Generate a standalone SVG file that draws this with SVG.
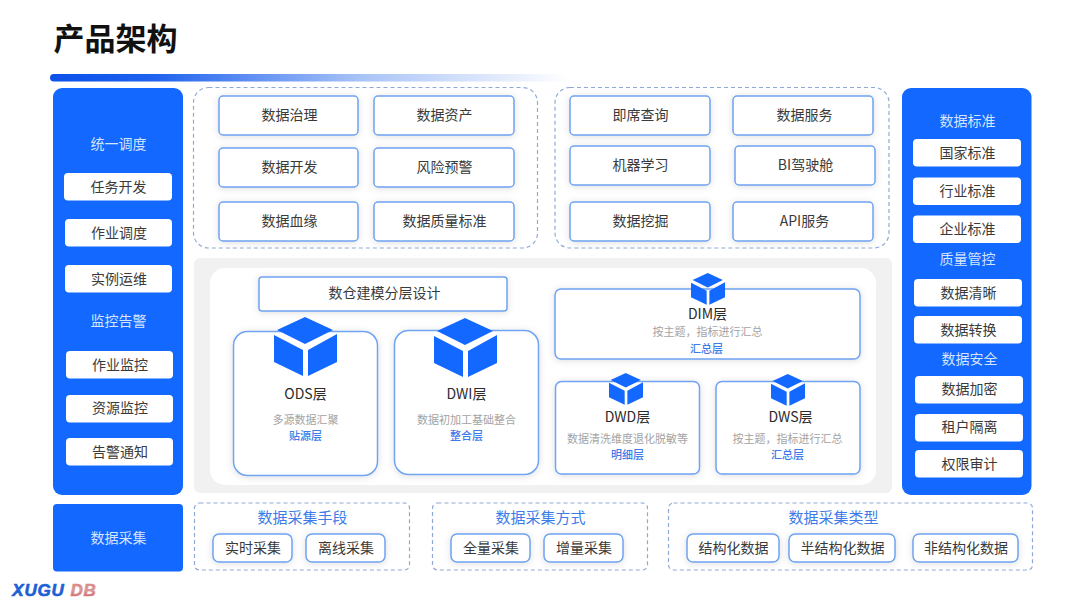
<svg xmlns="http://www.w3.org/2000/svg" width="1080" height="604" viewBox="0 0 1080 604">
<style>
text{font-family:"Noto Sans CJK SC","Noto Sans",sans-serif;text-anchor:middle;dominant-baseline:central;transform:translate(.5px,-1px)}
.p{fill:#1268ff}
.w{fill:#fff}
.c{fill:#fff;stroke:#6fa3f0;stroke-width:1.5;filter:url(#s)}
.d{fill:#fff;fill-opacity:.6;stroke:#8fa9d6;stroke-width:1.2;stroke-dasharray:4 3}
.t{font-size:14px;fill:#3a3a3a}
.l{font-size:14px;fill:#d5e4ff}
.h{font-size:15px;fill:#3d7be8}
.n{font-size:14px;fill:#2a2a2a}
.g{font-size:11px;fill:#a3a3a3}
.b{font-size:11px;fill:#3d7be8;font-weight:500}
.logo{font-family:"Liberation Sans",sans-serif;font-size:17px;font-weight:700;font-style:italic;letter-spacing:.8px;stroke-width:.6px}
</style>
<defs>
<linearGradient id="bar" x1="0" x2="1" y1="0" y2="0"><stop offset="0" stop-color="#0a50ea"/><stop offset=".2" stop-color="#1f62ee"/><stop offset=".6" stop-color="#a9c4f7"/><stop offset="1" stop-color="#fff"/></linearGradient>
<linearGradient id="db" x1="0" x2="0" y1="0" y2="1"><stop offset="0" stop-color="#e07a78"/><stop offset=".5" stop-color="#d9a0a0"/><stop offset="1" stop-color="#c9504e"/></linearGradient>
<filter id="s" x="-15%" y="-25%" width="130%" height="150%"><feDropShadow dx="0" dy="1" stdDeviation="3.5" flood-color="#000" flood-opacity=".13"/></filter>
<g id="cube" class="p">
<polygon points="31,0 59,13 31,27 3,13"/>
<polygon points="0,18 29,33 29,59 0,45"/>
<polygon points="63,17 34,33 34,59 63,45"/>
</g>
</defs>
<g id="header">
<text x="115" y="37" font-size="31" font-weight="700" fill="#111">产品架构</text>
<rect x="50" y="74" width="520" height="7.5" rx="3.7" fill="url(#bar)"/>
</g>
<g id="left-panel">
<rect class="p" x="53" y="88" width="130" height="407" rx="9"/>
<text class="l" x="118" y="144">统一调度</text>
<rect class="w" x="64" y="173" width="108" height="27.500" rx="4"/><text class="t" x="118" y="187">任务开发</text>
<rect class="w" x="65" y="219" width="107" height="27.500" rx="4"/><text class="t" x="118.500" y="233">作业调度</text>
<rect class="w" x="65" y="265" width="107" height="27.500" rx="4"/><text class="t" x="118.500" y="279">实例运维</text>
<text class="l" x="118" y="321">监控告警</text>
<rect class="w" x="66" y="351" width="107" height="27.500" rx="4"/><text class="t" x="119.500" y="365">作业监控</text>
<rect class="w" x="66" y="395" width="107" height="27.500" rx="4"/><text class="t" x="119.500" y="408">资源监控</text>
<rect class="w" x="66" y="438" width="107" height="27.500" rx="4"/><text class="t" x="119.500" y="452">告警通知</text>
</g>
<g id="top-left">
<rect class="d" x="193.500" y="87.500" width="344" height="160.500" rx="15"/>
<rect class="c" x="219" y="96" width="139" height="39" rx="4"/><text class="t" x="289" y="115">数据治理</text>
<rect class="c" x="374" y="96" width="140" height="39" rx="4"/><text class="t" x="444" y="115">数据资产</text>
<rect class="c" x="219" y="148" width="139" height="39" rx="4"/><text class="t" x="289" y="167">数据开发</text>
<rect class="c" x="374" y="148" width="140" height="39" rx="4"/><text class="t" x="444" y="167">风险预警</text>
<rect class="c" x="219" y="202" width="139" height="39" rx="4"/><text class="t" x="289" y="221">数据血缘</text>
<rect class="c" x="374" y="202" width="140" height="39" rx="4"/><text class="t" x="444" y="221">数据质量标准</text>
</g>
<g id="top-right">
<rect class="d" x="555" y="87.500" width="334" height="160.500" rx="15"/>
<rect class="c" x="570" y="96" width="140" height="39" rx="4"/><text class="t" x="640" y="115">即席查询</text>
<rect class="c" x="733" y="96" width="140" height="39" rx="4"/><text class="t" x="804" y="115">数据服务</text>
<rect class="c" x="570" y="146" width="140" height="39" rx="4"/><text class="t" x="640" y="165">机器学习</text>
<rect class="c" x="735" y="146" width="140" height="39" rx="4"/><text class="t" x="805" y="165">BI驾驶舱</text>
<rect class="c" x="570" y="202" width="140" height="39" rx="4"/><text class="t" x="640" y="221">数据挖掘</text>
<rect class="c" x="733" y="202" width="140" height="39" rx="4"/><text class="t" x="804" y="221">API服务</text>
</g>
<g id="warehouse">
<rect x="194" y="258" width="698" height="235" rx="6" fill="#f1f1f1"/>
<rect x="210" y="268" width="666" height="217" rx="15" fill="#fff"/>
<rect class="c" x="259" y="277" width="248" height="34" rx="3"/><text class="t" x="384" y="293">数仓建模分层设计</text>
</g>
<g id="ods">
<rect class="c" x="233.500" y="331.500" width="144" height="144" rx="14"/>
<use href="#cube" x="274" y="317"/>
<text class="n" x="305" y="394">ODS层</text>
<text class="g" x="305" y="420">多源数据汇聚</text>
<text class="b" x="305" y="436">贴源层</text>
</g>
<g id="dwi">
<rect class="c" x="394.500" y="330.500" width="144" height="144" rx="14"/>
<use href="#cube" x="434" y="318"/>
<text class="n" x="466" y="394">DWI层</text>
<text class="g" x="466" y="420">数据初加工基础整合</text>
<text class="b" x="466" y="436">整合层</text>
</g>
<g id="dim">
<rect class="c" x="555" y="289" width="305" height="70" rx="6"/>
<use href="#cube" transform="translate(691 273) scale(.54)"/>
<text class="n" x="707" y="314">DIM层</text>
<text class="g" x="707" y="332">按主题，指标进行汇总</text>
<text class="b" x="706" y="349">汇总层</text>
</g>
<g id="dwd">
<rect class="c" x="555.500" y="381.500" width="144" height="92.500" rx="6"/>
<use href="#cube" transform="translate(609 373) scale(.54)"/>
<text class="n" x="627" y="417">DWD层</text>
<text class="g" x="627" y="439">数据清洗维度退化脱敏等</text>
<text class="b" x="627" y="455">明细层</text>
</g>
<g id="dws">
<rect class="c" x="716" y="381.500" width="144" height="92.500" rx="6"/>
<use href="#cube" transform="translate(771 374) scale(.54)"/>
<text class="n" x="790" y="417">DWS层</text>
<text class="g" x="787" y="439">按主题，指标进行汇总</text>
<text class="b" x="787" y="455">汇总层</text>
</g>
<g id="right-panel">
<rect class="p" x="902" y="88" width="129.500" height="407" rx="9"/>
<text class="l" x="967" y="121">数据标准</text>
<rect class="w" x="913" y="139" width="108" height="27.500" rx="4"/><text class="t" x="967" y="153">国家标准</text>
<rect class="w" x="913" y="177.500" width="108" height="27.500" rx="4"/><text class="t" x="967" y="191">行业标准</text>
<rect class="w" x="913" y="215.500" width="108" height="27.500" rx="4"/><text class="t" x="967" y="229">企业标准</text>
<text class="l" x="967" y="259">质量管控</text>
<rect class="w" x="914" y="279" width="108" height="27.500" rx="4"/><text class="t" x="968" y="293">数据清晰</text>
<rect class="w" x="914" y="316" width="108" height="27.500" rx="4"/><text class="t" x="968" y="330">数据转换</text>
<text class="l" x="969" y="359">数据安全</text>
<rect class="w" x="915" y="376" width="108" height="27.500" rx="4"/><text class="t" x="969" y="389">数据加密</text>
<rect class="w" x="915" y="414" width="108" height="27.500" rx="4"/><text class="t" x="969" y="427">租户隔离</text>
<rect class="w" x="915" y="450" width="108" height="27.500" rx="4"/><text class="t" x="969" y="464">权限审计</text>
</g>
<g id="collect">
<rect class="p" x="53" y="504" width="130" height="67.500" rx="4"/>
<text class="l" x="118" y="538">数据采集</text>
</g>
<g id="collect-means">
<rect class="d" x="194.500" y="503" width="215" height="67" rx="5"/>
<text class="h" x="302" y="517">数据采集手段</text>
<rect class="c" x="213" y="534" width="79" height="28" rx="6"/><text class="t" x="252.500" y="548">实时采集</text>
<rect class="c" x="306" y="534" width="79" height="28" rx="6"/><text class="t" x="345.500" y="548">离线采集</text>
</g>
<g id="collect-method">
<rect class="d" x="432.500" y="503" width="215" height="67" rx="5"/>
<text class="h" x="540" y="517">数据采集方式</text>
<rect class="c" x="451" y="534" width="79" height="28" rx="6"/><text class="t" x="490.500" y="548">全量采集</text>
<rect class="c" x="544" y="534" width="79" height="28" rx="6"/><text class="t" x="583.500" y="548">增量采集</text>
</g>
<g id="collect-type">
<rect class="d" x="668.500" y="503" width="364" height="67" rx="5"/>
<text class="h" x="833" y="517">数据采集类型</text>
<rect class="c" x="687" y="534" width="92" height="28" rx="6"/><text class="t" x="733" y="548">结构化数据</text>
<rect class="c" x="789" y="534" width="106" height="28" rx="6"/><text class="t" x="842" y="548">半结构化数据</text>
<rect class="c" x="913" y="534" width="105" height="28" rx="6"/><text class="t" x="965.500" y="548">非结构化数据</text>
</g>
<g id="logo">
<text class="logo" x="38" y="591" fill="#1f5fd6" stroke="#1f5fd6">XUGU</text>
<text class="logo" x="83" y="591" fill="url(#db)" stroke="#d98a88">DB</text>
</g>
<g id="connectors"></g>
</svg>
